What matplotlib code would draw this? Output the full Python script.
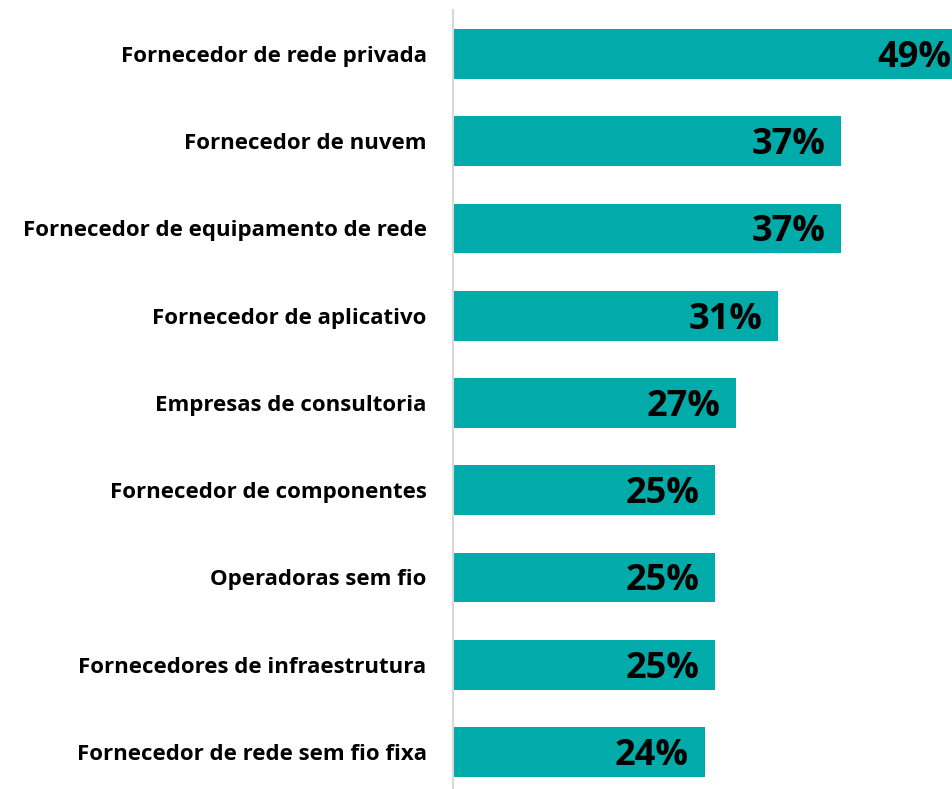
import matplotlib.pyplot as plt

categories = [
    "Fornecedor de rede privada",
    "Fornecedor de nuvem",
    "Fornecedor de equipamento de rede",
    "Fornecedor de aplicativo",
    "Empresas de consultoria",
    "Fornecedor de componentes",
    "Operadoras sem fio",
    "Fornecedores de infraestrutura",
    "Fornecedor de rede sem fio fixa",
]
values = [49, 37, 37, 31, 27, 25, 25, 25, 24]

plt.rcParams['font.family'] = ['Open Sans', 'DejaVu Sans']

fig = plt.figure(figsize=(9.52, 7.89), dpi=100)
ax = fig.add_axes([453 / 952, 0, 1 - 453 / 952, 1 - 10 / 789])

y = list(range(len(categories)))
ax.barh(y, values, height=0.57, color="#00ABAA")

# value labels inside the bar ends
for yi, v in zip(y, values):
    ax.text(v - 1.5, yi + 0.045, f"{v}%", ha="right", va="center",
            fontsize=26, fontweight="bold", color="black")

ax.set_xlim(0, 47.57)
ax.set_ylim(8.424, -0.504)
ax.set_yticks(y)
ax.set_yticklabels(categories, fontsize=16, fontweight="bold")
ax.tick_params(axis="y", length=0, pad=19)
ax.set_xticks([])

for s in ["top", "right", "bottom"]:
    ax.spines[s].set_visible(False)
ax.spines["left"].set_color("#D9D9D9")
ax.spines["left"].set_linewidth(1.5)

fig.savefig("out.png", dpi=100)
plt.close(fig)
